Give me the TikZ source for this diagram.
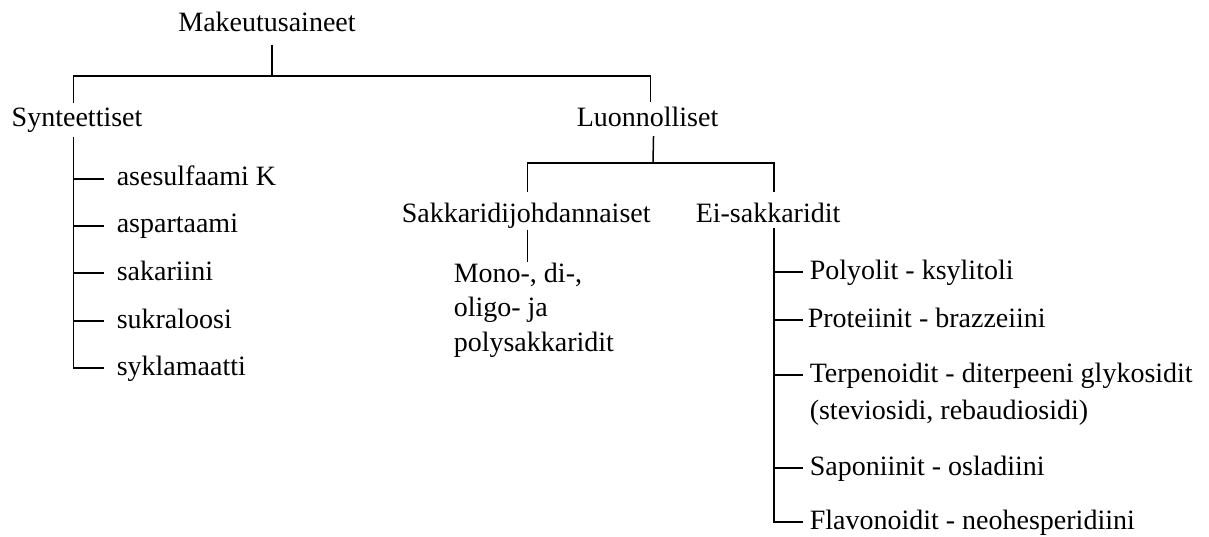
\documentclass[tikz,border=0pt]{standalone}
\usepackage{fontspec}
\setmainfont{Liberation Serif}
\usetikzlibrary{calc}
\begin{document}
\begin{tikzpicture}[x=1pt,y=-1pt,line width=1.5pt,
  txt/.style={inner sep=0pt,font=\fontsize{28}{35}\selectfont,anchor=base west,align=left}]
\useasboundingbox (0,0) rectangle (1209,537);
% nodes
\node[txt,anchor=base] (root) at (267,32) {Makeutusaineet};
\node[txt] (synt) at (11,127) {Synteettiset};
\node[txt] (luon) at (576,127) {Luonnolliset};
\node[txt] (sakk) at (401,223) {Sakkaridijohdannaiset};
\node[txt] (eis) at (695,223) {Ei-sakkaridit};
\node[txt,font=\fontsize{28}{34.5}\selectfont] (mono) at (453,351) {Mono-, di-,\\oligo- ja\\polysakkaridit};
\node[txt] (a1) at (116,186) {asesulfaami K};
\node[txt] (a2) at (116,233) {aspartaami};
\node[txt] (a3) at (116,280) {sakariini};
\node[txt] (a4) at (116,328) {sukraloosi};
\node[txt] (a5) at (116,375) {syklamaatti};
\node[txt] (r1) at (809,279) {Polyolit - ksylitoli};
\node[txt] (r2) at (807,327) {Proteiinit - brazzeiini};
\node[txt,font=\fontsize{28}{37}\selectfont] (r3) at (809,419) {Terpenoidit - diterpeeni glykosidit\\(steviosidi, rebaudiosidi)};
\node[txt] (r4) at (809,475) {Saponiinit - osladiini};
\node[txt] (r5) at (809,529) {Flavonoidit - neohesperidiini};
% junction coordinates
\coordinate (rootbus) at (272,76);
\coordinate (lbus) at (653,163);
\coordinate (st) at ($(synt.south)+(-3.5,3)$);
\coordinate (sd) at ($(sakk.south)+(1.5,0)$);
\coordinate (et) at ($(eis.south)+(6,4)$);
% connectors
\draw ($(root.base)+(5,13)$) -- (rootbus);
\draw ($(synt.north)+(-3.5,-5)$) |- (rootbus) -| ($(luon.north)+(3,-5)$);
\draw ($(luon.south)+(6,8)$) -- (lbus);
\draw ($(sakk.north)+(1.5,-11)$) |- (lbus) -| ($(eis.north)+(6,-11)$);
\draw (sd) -- (sd |- mono.north);
\draw (st) |- ($(a5.base west)+(-12,-7)$);
\foreach \n in {a1,a2,a3,a4}
  \draw ($(\n.base west)+(-42,-7)$) -- ($(\n.base west)+(-12,-7)$);
\draw (et) |- ($(r5.base west)+(-6,-7)$);
\foreach \n in {r1,r4}
  \draw ($(\n.base west)+(-36,-7)$) -- ($(\n.base west)+(-6,-7)$);
\draw ($(r2.base west)+(-34,-7)$) -- ($(r2.base west)+(-4,-7)$);
\draw ($(r3.base west)+(-36,-44)$) -- ($(r3.base west)+(-6,-44)$);
\end{tikzpicture}
\end{document}
